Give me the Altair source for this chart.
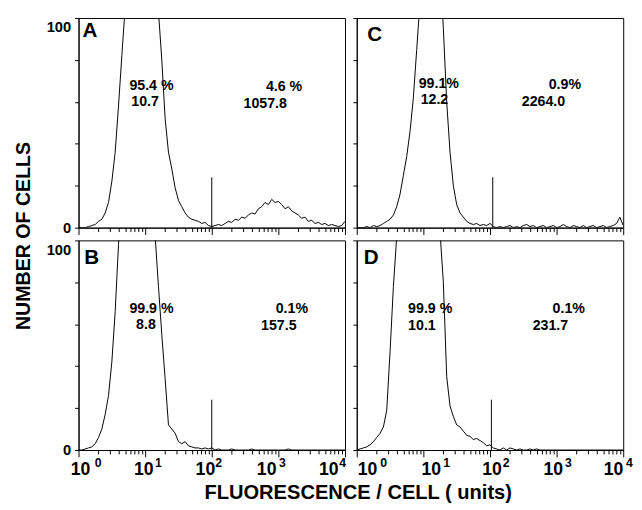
import altair as alt
import pandas as pd

# channel positions (log10 of fluorescence units)
LOG_POS = [0.00, 0.05, 0.10, 0.15, 0.20, 0.25, 0.30, 0.35, 0.40, 0.45,
           0.50, 0.55, 0.60, 0.65, 0.70, 0.75, 0.80, 0.85, 0.90, 0.95,
           1.00, 1.05, 1.10, 1.15, 1.20, 1.25, 1.30, 1.35, 1.40, 1.45,
           1.50, 1.55, 1.60, 1.65, 1.70, 1.75, 1.80, 1.85, 1.90, 1.95,
           2.00, 2.05, 2.10, 2.15, 2.20, 2.25, 2.30, 2.35, 2.40, 2.45,
           2.50, 2.55, 2.60, 2.65, 2.70, 2.75, 2.80, 2.85, 2.90, 2.95,
           3.00, 3.05, 3.10, 3.15, 3.20, 3.25, 3.30, 3.35, 3.40, 3.45,
           3.50, 3.55, 3.60, 3.65, 3.70, 3.75, 3.80, 3.85, 3.90, 3.95,
           4.00]

COUNTS_A = [0, 0, 0, 0.5, 1, 1.5, 3, 4, 7, 12,
            22, 36, 58, 82, 105, 130, 150, 165, 175, 180,
            178, 170, 150, 125, 103, 80, 52, 36, 28, 19,
            13, 10, 7, 5, 4, 3.5, 3, 2, 2.5, 1,
            0.5, 1, 1.5, 1, 2, 3, 2.5, 4, 3.5, 5,
            4.5, 6, 7, 6.5, 9, 10, 12, 11, 13.5, 12,
            12.5, 11, 9, 10, 8, 7, 6, 4.5, 5, 3,
            3.5, 2, 2.5, 1.5, 2, 1, 1.5, 1, 0.5, 1,
            3]

COUNTS_B = [0, 0, 0.5, 1, 1.5, 3, 6, 10, 17, 26,
            42, 66, 98, 125, 150, 168, 178, 180, 176, 165,
            150, 132, 115, 102, 78, 55, 34, 12, 10, 8,
            4, 3, 4, 2, 1.5, 1, 1, 0.5, 1, 0.5,
            1, 0, 0.5, 0, 0, 0, 0.5, 0, 0, 0,
            0, 0, 0.5, 0, 0, 0, 0, 0, 0, 0,
            0, 0, 0, 0.5, 0, 0, 0, 0, 0, 0,
            0, 0, 0, 0, 0, 0, 0, 0, 0, 0,
            0]

COUNTS_C = [0, 0, 0, 0.5, 0, 1, 0.5, 1, 2, 3,
            4, 6, 10, 16, 25, 34, 46, 62, 85, 108,
            135, 155, 165, 160, 145, 125, 95, 60, 36, 20,
            11, 7, 5, 3, 2, 1.5, 2, 1, 1.5, 1,
            2, 0.5, 0, 0.5, 0, 0.5, 1, 0, 0.5, 0,
            1, 1.5, 0.5, 1, 0, 0.5, 1, 0, 0.5, 1,
            0, 0.5, 1.5, 0.5, 0, 1, 0.5, 0, 1, 0,
            0.5, 1, 0, 0.5, 1, 0, 0.5, 1, 2, 5,
            1]

COUNTS_D = [0, 0.5, 1, 1.5, 2.5, 4, 6, 8, 11, 19,
            47, 78, 102, 125, 145, 160, 170, 175, 172, 165,
            155, 145, 135, 125, 113, 104, 80, 35, 21, 16,
            12, 11, 9, 7, 6.5, 5, 5.5, 4.5, 3.5, 2,
            2.5, 1, 0.5, 0, 1, 0, 1, 0.5, 0, 0.5,
            0, 0, 0.5, 0, 0.5, 0, 0, 0, 0, 0,
            0, 0, 0, 0, 0, 0, 0, 0, 0, 0,
            0, 0, 0, 0, 0, 0, 0, 0, 0, 0,
            0]

COUNTS = {"A": COUNTS_A, "B": COUNTS_B, "C": COUNTS_C, "D": COUNTS_D}

# gate marker position (fluorescence units) and height (cells)
MARKER_X = {"A": 100, "B": 100, "C": 110, "D": 105}
MARKER_H = {"A": 24, "B": 24, "C": 24, "D": 24}

# percentage / mean annotations: (text, fluorescence, cells)
ANNOT = {
    "A": [("95.4 %", 5.8, 67.5), ("10.7", 6.2, 60), ("4.6 %", 650, 67), ("1057.8", 300, 59)],
    "B": [("99.9 %", 5.8, 67), ("8.8", 7.3, 59.5), ("0.1%", 910, 67), ("157.5", 550, 59)],
    "C": [("99.1%", 8.5, 68.5), ("12.2", 9.1, 61), ("0.9%", 760, 68), ("2264.0", 300, 60)],
    "D": [("99.9 %", 5.9, 67), ("10.1", 5.9, 59), ("0.1%", 870, 67), ("231.7", 437, 59)],
}
LETTER_POS = {"A": (1.15, 93.5), "B": (1.22, 91.5), "C": (1.44, 92), "D": (1.27, 91.5)}

X_TICKS = [1, 2, 3, 4, 5, 6, 7, 8, 9,
           10, 20, 30, 40, 50, 60, 70, 80, 90,
           100, 200, 300, 400, 500, 600, 700, 800, 900,
           1000, 2000, 3000, 4000, 5000, 6000, 7000, 8000, 9000,
           10000]
DECADES = [1, 10, 100, 1000, 10000]
EXPONENTS = ["0", "1", "2", "3", "4"]
# horizontal shift of each "10" label (px) and position of its exponent (fluorescence units)
BASE_SHIFT = {"B": [1.5, -2, -7, -12.5, -17], "D": [10.5, 7.5, 1.5, -4, -10.5]}
EXP_POS = {"B": [1.97, 15.8, 127, 1146, 9250], "D": [2.54, 22.3, 175, 1500, 12400]}
Y_TICKS = [0, 20, 40, 60, 80, 100]

Y_TITLE = "NUMBER OF CELLS"
X_TITLE = "FLUORESCENCE / CELL ( units)"

W, H = 272, 214
FONT = "Liberation Sans"
DEC_TEST = "indexof([1, 10, 100, 1000, 10000], datum.value) >= 0"


def make_panel(key, bottom, left):
    hist = pd.DataFrame({"fl": [10 ** p for p in LOG_POS], "count": COUNTS[key]})
    xs = alt.Scale(type="log", domain=[1, 10000], nice=False)
    ys = alt.Scale(domain=[0, 100], nice=False, zero=True)

    xa = dict(values=X_TICKS, grid=False, labels=bottom,
              labelExpr=DEC_TEST + " ? '10' : ''",
              labelOverlap=False, labelFlush=False,
              labelPadding=4, labelFontSize=18,
              tickSize={"condition": {"test": DEC_TEST, "value": 7}, "value": 4},
              title="")
    if bottom:
        xa["labelOffset"] = {
            "condition": [{"test": "datum.value == %d" % d, "value": s}
                          for d, s in zip(DECADES, BASE_SHIFT[key])],
            "value": 0,
        }
    if key == "B":
        xa.update(title=X_TITLE, titleX=285, titleY=44, titleAlign="center",
                  titleBaseline="middle", titleFontSize=20.5)
    ya = dict(values=Y_TICKS, grid=False, labels=left,
              labelExpr="datum.value == 0 || datum.value == 100 ? datum.label : ''",
              labelFontSize=15, labelPadding=4, tickSize=4,
              labelOffset={"condition": {"test": "datum.value == 100", "value": 9}, "value": 0},
              title="")
    if key == "A":
        ya.update(title=Y_TITLE, titleX=-56, titleY=222, titleAngle=270,
                  titleAlign="center", titleBaseline="middle", titleFontSize=20)

    x = alt.X("fl:Q", scale=xs, axis=alt.Axis(**xa))
    y = alt.Y("count:Q", scale=ys, axis=alt.Axis(**ya))

    line = alt.Chart(hist).mark_line(color="black", strokeWidth=1, clip=True).encode(x=x, y=y)
    marker = alt.Chart(pd.DataFrame({"fl": [MARKER_X[key]], "count": [MARKER_H[key]]})).mark_rule(
        color="black", strokeWidth=1).encode(x=x, y=y, y2=alt.datum(0))
    ann = alt.Chart(pd.DataFrame(ANNOT[key], columns=["label", "fl", "count"])).mark_text(
        align="left", baseline="middle", font=FONT, fontWeight="bold", fontSize=14.5,
        color="black").encode(x=x, y=y, text="label:N")
    lx, ly = LETTER_POS[key]
    letter = alt.Chart(pd.DataFrame({"label": [key], "fl": [lx], "count": [ly]})).mark_text(
        align="left", baseline="middle", font=FONT, fontWeight="bold", fontSize=21,
        color="black").encode(x=x, y=y, text="label:N")
    layers = [line, marker, ann, letter]
    if bottom:
        exps = alt.Chart(pd.DataFrame({"fl": EXP_POS[key], "label": EXPONENTS})).mark_text(
            align="center", baseline="middle", font=FONT, fontWeight="bold", fontSize=12.5,
            color="black").encode(x=x, y=alt.value(H + 13), text="label:N")
        layers.append(exps)
    return alt.layer(*layers).properties(width=W, height=H)


chart = alt.concat(
    make_panel("A", False, True),
    make_panel("C", False, False),
    make_panel("B", True, True),
    make_panel("D", True, False),
    columns=2,
    spacing=alt.RowColnumber(row=13, column=12),
    bounds="flush",
).properties(
    padding={"left": 5, "top": 4, "right": 0, "bottom": 0}
).configure_view(
    stroke="black", strokeWidth=1
).configure_axis(
    domainColor="black", tickColor="black", labelColor="black", titleColor="black",
    labelFont=FONT, titleFont=FONT, labelFontWeight="bold", titleFontWeight="bold",
    domainWidth=1, tickWidth=1
)

chart.save("out.html", embed_options={"renderer": "svg", "actions": False})
